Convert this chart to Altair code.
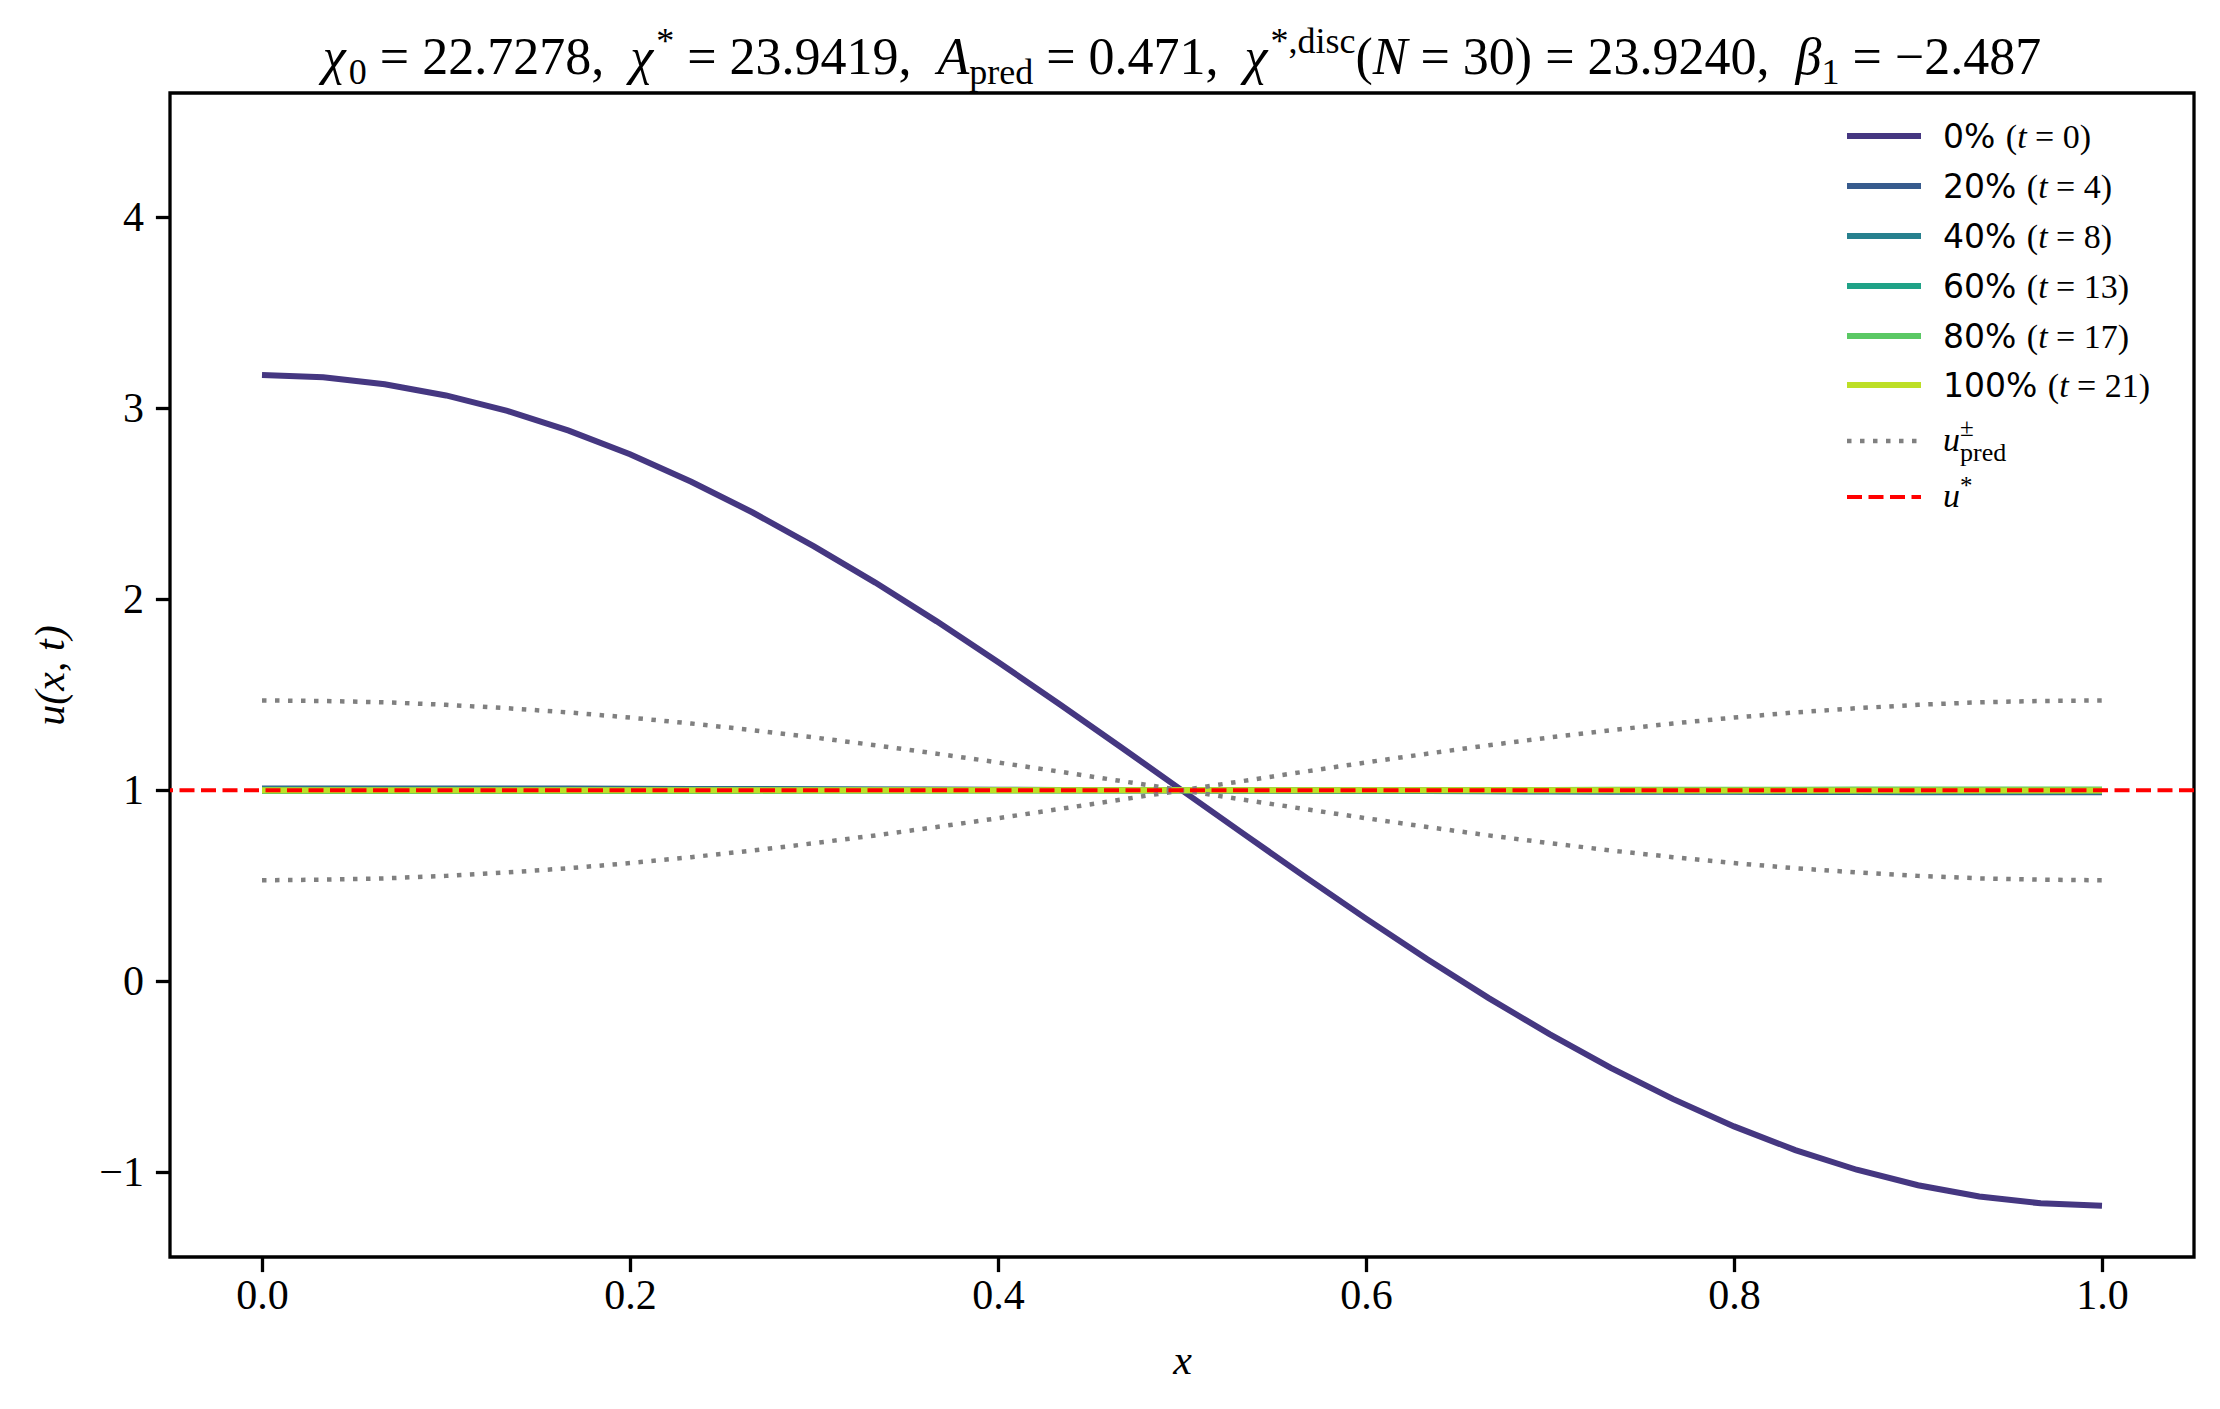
import altair as alt
import pandas as pd

SERIF = "Liberation Serif"
SANS = "DejaVu Sans"
SP = "\u00a0"

# grid N = 30 -> 31 nodes on [0, 1]
x_grid = [0.0, 0.0333, 0.0667, 0.1, 0.1333, 0.1667, 0.2, 0.2333, 0.2667, 0.3,
          0.3333, 0.3667, 0.4, 0.4333, 0.4667, 0.5, 0.5333, 0.5667, 0.6, 0.6333,
          0.6667, 0.7, 0.7333, 0.7667, 0.8, 0.8333, 0.8667, 0.9, 0.9333, 0.9667, 1.0]

u_t0 = [3.175, 3.163, 3.127, 3.068, 2.987, 2.884, 2.760, 2.616, 2.455, 2.278,
        2.088, 1.885, 1.672, 1.452, 1.227, 1.000, 0.773, 0.548, 0.328, 0.115,
        -0.088, -0.278, -0.455, -0.616, -0.760, -0.884, -0.987, -1.068, -1.127, -1.163, -1.175]
u_t4 = [1.010, 1.010, 1.010, 1.010, 1.009, 1.009, 1.008, 1.007, 1.007, 1.006,
        1.005, 1.004, 1.003, 1.002, 1.001, 1.000, 0.999, 0.998, 0.997, 0.996,
        0.995, 0.994, 0.993, 0.993, 0.992, 0.991, 0.991, 0.990, 0.990, 0.990, 0.990]
u_t8 = [1.006, 1.006, 1.006, 1.006, 1.005, 1.005, 1.005, 1.004, 1.004, 1.004,
        1.003, 1.002, 1.002, 1.001, 1.001, 1.000, 0.999, 0.999, 0.998, 0.998,
        0.997, 0.996, 0.996, 0.996, 0.995, 0.995, 0.995, 0.994, 0.994, 0.994, 0.994]
u_t13 = [1.002, 1.002, 1.002, 1.002, 1.002, 1.002, 1.002, 1.001, 1.001, 1.001,
         1.001, 1.001, 1.001, 1.000, 1.000, 1.000, 1.000, 1.000, 0.999, 0.999,
         0.999, 0.999, 0.999, 0.999, 0.998, 0.998, 0.998, 0.998, 0.998, 0.998, 0.998]
u_t17 = [0.996, 0.996, 0.996, 0.996, 0.996, 0.997, 0.997, 0.997, 0.997, 0.998,
         0.998, 0.998, 0.999, 0.999, 1.000, 1.000, 1.000, 1.001, 1.001, 1.002,
         1.002, 1.002, 1.003, 1.003, 1.003, 1.003, 1.004, 1.004, 1.004, 1.004, 1.004]
u_t21 = [1.001, 1.001, 1.001, 1.001, 1.001, 1.001, 1.001, 1.001, 1.000, 1.000,
         1.000, 1.000, 1.000, 1.000, 1.000, 1.000, 1.000, 1.000, 1.000, 1.000,
         1.000, 1.000, 1.000, 0.999, 0.999, 0.999, 0.999, 0.999, 0.999, 0.999, 0.999]

u_pred_plus = [1.471, 1.468, 1.461, 1.448, 1.430, 1.408, 1.381, 1.350, 1.315, 1.277,
               1.236, 1.192, 1.146, 1.098, 1.049, 1.000, 0.951, 0.902, 0.854, 0.808,
               0.764, 0.723, 0.685, 0.650, 0.619, 0.592, 0.570, 0.552, 0.539, 0.532, 0.529]
u_pred_minus = [0.529, 0.532, 0.539, 0.552, 0.570, 0.592, 0.619, 0.650, 0.685, 0.723,
                0.764, 0.808, 0.854, 0.902, 0.951, 1.000, 1.049, 1.098, 1.146, 1.192,
                1.236, 1.277, 1.315, 1.350, 1.381, 1.408, 1.430, 1.448, 1.461, 1.468, 1.471]
u_star = 1.0

snap_pct = ["0%", "20%", "40%", "60%", "80%", "100%"]
snap_t = ["0", "4", "8", "13", "17", "21"]
snap_u = [u_t0, u_t4, u_t8, u_t13, u_t17, u_t21]
snap_colors = ["#453781", "#375b8d", "#27808e", "#1fa287", "#5ac864", "#bddf26"]

x_ticks = [0.0, 0.2, 0.4, 0.6, 0.8, 1.0]
y_ticks = [-1, 0, 1, 2, 3, 4]

W, H = 2024, 1164

snaps = pd.DataFrame(
    [{"x": x, "u": u, "snap": p} for p, us in zip(snap_pct, snap_u) for x, u in zip(x_grid, us)]
)
pred = pd.DataFrame(
    [{"x": x, "u": u, "branch": b}
     for b, us in (("plus", u_pred_plus), ("minus", u_pred_minus))
     for x, u in zip(x_grid, us)]
)
ONE = pd.DataFrame({"k": [0]})

xs = alt.Scale(domain=[-0.05, 1.05], nice=False, zero=False)
ys = alt.Scale(domain=[-1.444, 4.652], nice=False, zero=False)
x_enc = alt.X("x:Q", scale=xs, axis=alt.Axis(values=x_ticks, format=".1f", title="x"))
y_enc = alt.Y("u:Q", scale=ys, axis=alt.Axis(values=y_ticks, format="d", title="u(x, t)"))

lines = alt.Chart(snaps).mark_line(strokeWidth=6, clip=True).encode(
    x=x_enc, y=y_enc,
    color=alt.Color("snap:N", scale=alt.Scale(domain=snap_pct, range=snap_colors), legend=None),
    order=alt.Order("x:Q"),
)
bounds = alt.Chart(pred).mark_line(
    strokeWidth=4.5, strokeDash=[4.5, 8.5], color="#808080", clip=True
).encode(x=alt.X("x:Q", scale=xs), y=alt.Y("u:Q", scale=ys), detail="branch:N")
star = alt.Chart(pd.DataFrame({"u": [u_star]})).mark_rule(
    color="red", strokeWidth=4, strokeDash=[15, 6.5]
).encode(y=alt.Y("u:Q", scale=ys))

# --- rich text helpers (title / legend need sub- and superscripts) ---
SERIF_W = {" ": .25, SP: .25, ",": .25, ".": .25, "=": .564, "(": .333, ")": .333, "*": .5,
           "−": .564, "±": .549, "A": .611, "N": .667, "p": .5, "r": .333, "e": .444,
           "d": .5, "i": .278, "s": .389, "c": .444, "t": .278, "u": .5, "x": .444,
           "χ": .5, "β": .5}
SANS_W = {" ": .318, SP: .318, "%": .95}


def text_width(s, size, family):
    if family == SANS:
        return size * sum(SANS_W.get(c, .636) for c in s)
    return size * sum(SERIF_W.get(c, .5) for c in s)


def seg(text, size, italic=False, dy=0, family=SERIF, advance=True):
    return dict(text=text, size=size, italic=italic, dy=dy, family=family, advance=advance)


def rich(segs, x0, y0, anchor="left"):
    total = sum(text_width(s["text"], s["size"], s["family"]) for s in segs if s["advance"])
    x = x0 - total / 2 if anchor == "center" else x0
    out = []
    for s in segs:
        body = s["text"].lstrip(" ")
        lead = text_width(s["text"][: len(s["text"]) - len(body)], s["size"], s["family"])
        out.append(
            alt.Chart(ONE).mark_text(
                text=body.replace(" ", SP), font=s["family"], fontSize=s["size"],
                fontStyle="italic" if s["italic"] else "normal",
                align="left", baseline="alphabetic", color="black",
            ).encode(x=alt.value(x + lead), y=alt.value(y0 + s["dy"]))
        )
        if s["advance"]:
            x += text_width(s["text"], s["size"], s["family"])
    return out


# title
F, f = 52, 36
title_segs = [
    seg("χ", F, True), seg("0", f, dy=10), seg(" = 22.7278,  ", F),
    seg("χ", F, True), seg("*", f, dy=-21), seg(" = 23.9419,  ", F),
    seg("A", F, True), seg("pred", f, dy=10), seg(" = 0.471,  ", F),
    seg("χ", F, True), seg("*,disc", f, dy=-21), seg("(", F), seg("N", F, True),
    seg(" = 30) = 23.9240,  ", F),
    seg("β", F, True), seg("1", f, dy=10), seg(" = −2.487", F),
]
title_layers = rich(title_segs, W / 2, -19, anchor="center")

# legend
LX0, LX1, TX = 1677, 1751, 1773
leg_y = [43, 93, 143, 193, 243, 292, 348, 404]
LF = 33
legend_layers = []
for i, (p, t) in enumerate(zip(snap_pct, snap_t)):
    legend_layers.append(
        alt.Chart(ONE).mark_rule(strokeWidth=6, color=snap_colors[i]).encode(
            x=alt.value(LX0), x2=alt.value(LX1), y=alt.value(leg_y[i]))
    )
    legend_layers += rich(
        [seg(p + " ", LF, family=SANS), seg("(", 34), seg("t", 34, True), seg(" = " + t + ")", 34)],
        TX, leg_y[i] + 12,
    )
legend_layers.append(
    alt.Chart(ONE).mark_rule(strokeWidth=4.5, strokeDash=[4.5, 8.5], color="#808080").encode(
        x=alt.value(LX0), x2=alt.value(LX1), y=alt.value(leg_y[6]))
)
legend_layers += rich(
    [seg("u", 34, True), seg("±", 25, dy=-15, advance=False), seg("pred", 26, dy=10)],
    TX, leg_y[6] + 10,
)
legend_layers.append(
    alt.Chart(ONE).mark_rule(strokeWidth=4, strokeDash=[15, 6.5], color="red").encode(
        x=alt.value(LX0), x2=alt.value(LX1), y=alt.value(leg_y[7]))
)
legend_layers += rich([seg("u", 34, True), seg("*", 25, dy=-13)], TX, leg_y[7] + 10)

chart = (
    alt.layer(lines, bounds, star, *title_layers, *legend_layers)
    .properties(
        width=W, height=H,
        autosize=alt.AutoSizeParams(type="none"),
        padding={"left": 162, "top": 85, "right": 18, "bottom": 144},
        background="white",
    )
    .configure_view(stroke="black", strokeWidth=3.3)
    .configure_axis(
        grid=False, domain=False,
        ticks=True, tickColor="black", tickWidth=3.3, tickSize=14.6,
        labelFont=SERIF, labelFontSize=42, labelColor="black",
        titleFont=SERIF, titleFontSize=42, titleFontStyle="italic",
        titleFontWeight="normal", titleColor="black",
    )
    .configure_axisX(labelPadding=4, titlePadding=24)
    .configure_axisY(labelPadding=12, titlePadding=26)
)

chart.save("out.html", embed_options={"renderer": "svg", "actions": False})
